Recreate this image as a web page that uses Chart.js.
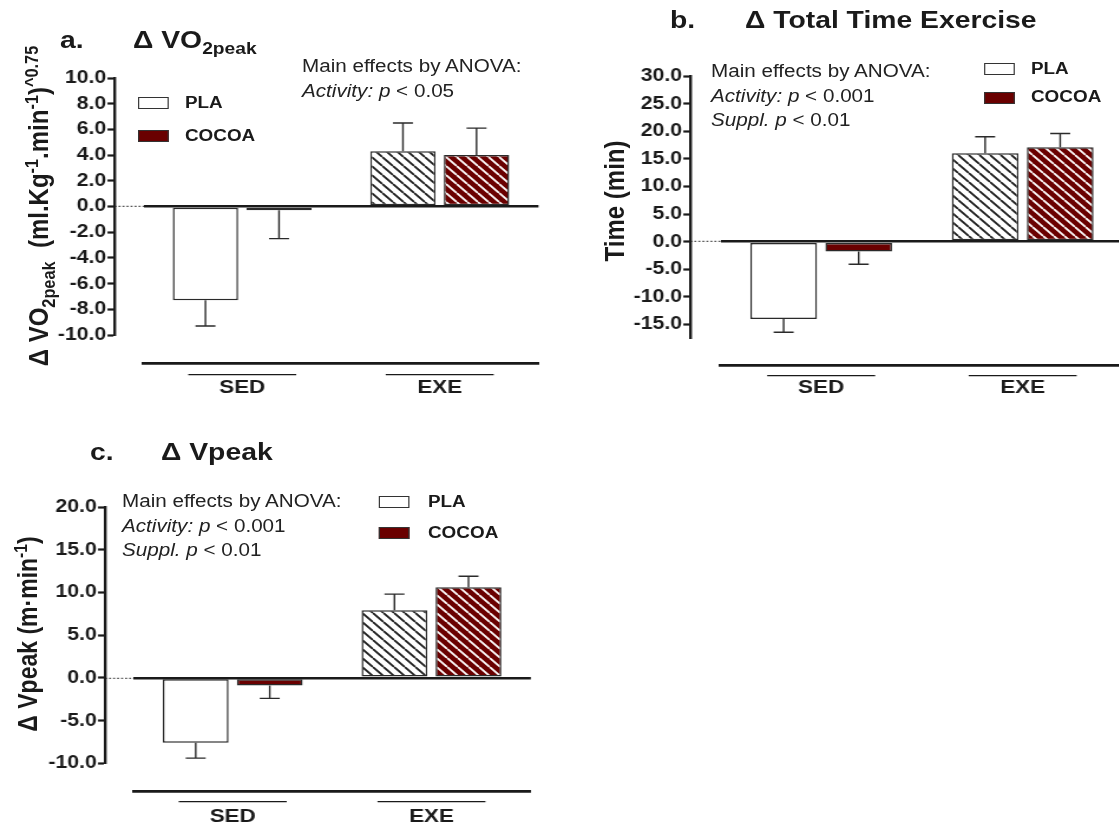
<!DOCTYPE html>
<html lang="en">
<head>
<meta charset="utf-8">
<title>Cocoa supplementation and exercise capacity</title>
<script src="https://cdn.jsdelivr.net/npm/chart.js@4.4.1/dist/chart.umd.min.js"></script>
<style>
  :root { --sx: 1.18; }
  html, body { margin: 0; padding: 0; background: #fff; overflow: hidden; width: 1119px; height: 827px; }
  #figure {
    position: absolute; left: 0; top: 0;
    width: calc(1119px / var(--sx)); height: 827px;
    transform: scaleX(var(--sx)); transform-origin: 0 0;
    font-family: 'Liberation Sans', Arial, sans-serif; color: #1a1a1a;
  }
  #figure canvas { position: absolute; }
  .t, .yt { position: absolute; white-space: nowrap; line-height: 1; }
  .t { left: calc(var(--x) * 1px / var(--sx)); top: calc(var(--y) * 1px); transform: translateY(-50%); }
  .yt {
    left: calc(var(--x) * 1px / var(--sx)); top: calc(var(--y) * 1px);
    transform: translate(-50%, -50%) rotate(-90deg);
    font-weight: bold; font-size: 24px;
  }
  .title { font-weight: bold; font-size: 24px; }
  .note { font-size: 17.5px; color: #222; }
  .key { font-weight: bold; font-size: 16px; }
  .swatch {
    position: absolute; left: calc(var(--x) * 1px / var(--sx)); top: calc(var(--y) * 1px);
    width: calc(31px / var(--sx)); height: 12px; box-sizing: border-box; border: 1.5px solid #333;
  }
  .swatch.pla { background: #fff; }
  .swatch.cocoa { background: #6a0000; }
  sub, sup { font-size: 0.68em; line-height: 0; }
</style>
</head>
<body>
<div id="figure">
  <!-- a. VO2peak -->
  <div class="t title" style="--x:60;--y:40">a.</div>
  <div class="t title" style="--x:133;--y:40">&Delta; VO<sub>2peak</sub></div>
  <div class="yt" style="--x:39;--y:206">&Delta; VO<sub>2peak</sub>&nbsp; (ml.Kg<sup>-1</sup>.min<sup>-1</sup>)<sup>^0.75</sup></div>
  <div class="t note" style="--x:302;--y:67">Main effects by ANOVA:</div>
  <div class="t note" style="--x:302;--y:92"><i>Activity:</i> <i>p</i> &lt; 0.05</div>
  <div class="swatch pla" style="--x:138;--y:97"></div>
  <div class="t key" style="--x:185;--y:103">PLA</div>
  <div class="swatch cocoa" style="--x:138;--y:130"></div>
  <div class="t key" style="--x:185;--y:136">COCOA</div>

  <!-- b. total exercise time -->
  <div class="t title" style="--x:670;--y:20">b.</div>
  <div class="t title" style="--x:745;--y:20">&Delta; Total Time Exercise</div>
  <div class="yt" style="--x:615;--y:201">Time (min)</div>
  <div class="t note" style="--x:711;--y:72">Main effects by ANOVA:</div>
  <div class="t note" style="--x:711;--y:97"><i>Activity:</i> <i>p</i> &lt; 0.001</div>
  <div class="t note" style="--x:711;--y:121"><i>Suppl.</i> <i>p</i> &lt; 0.01</div>
  <div class="swatch pla" style="--x:984;--y:63"></div>
  <div class="t key" style="--x:1031;--y:69">PLA</div>
  <div class="swatch cocoa" style="--x:984;--y:92"></div>
  <div class="t key" style="--x:1031;--y:97">COCOA</div>

  <!-- c. Vpeak -->
  <div class="t title" style="--x:90;--y:452">c.</div>
  <div class="t title" style="--x:161;--y:452">&Delta; Vpeak</div>
  <div class="yt" style="--x:28;--y:634;font-size:23px">&Delta; Vpeak (m&middot;min<sup>-1</sup>)</div>
  <div class="t note" style="--x:122;--y:502">Main effects by ANOVA:</div>
  <div class="t note" style="--x:122;--y:527"><i>Activity:</i> <i>p</i> &lt; 0.001</div>
  <div class="t note" style="--x:122;--y:551"><i>Suppl.</i> <i>p</i> &lt; 0.01</div>
  <div class="swatch pla" style="--x:379;--y:496"></div>
  <div class="t key" style="--x:428;--y:502">PLA</div>
  <div class="swatch cocoa" style="--x:379;--y:527"></div>
  <div class="t key" style="--x:428;--y:533">COCOA</div>
</div>

<script>
// The figure is laid out in final (stretched) pixels and squeezed by SX,
// then the wrapper stretches it back with scaleX.
const SX = 1.18;
const FONT = "'Liberation Sans', Arial, sans-serif";
const INK = '#1a1a1a';
const COCOA_RED = '#6a0000';

const groups = ['SED', 'EXE'];

// a. change in VO2peak
const vo2Pla = [-7.3, 4.3];
const vo2PlaErr = [2.0, 2.2];
const vo2Cocoa = [-0.3, 4.0];
const vo2CocoaErr = [2.2, 2.1];
const vo2Range = [-10, 10];
const vo2Step = 2;

// b. change in total exercise time (min)
const timePla = [-14.0, 16.0];
const timePlaErr = [2.4, 3.0];
const timeCocoa = [-1.8, 17.1];
const timeCocoaErr = [2.3, 2.5];
const timeRange = [-17.5, 30];
const timeStep = 5;

// c. change in Vpeak (m/min)
const vpeakPla = [-7.6, 7.9];
const vpeakPlaErr = [1.8, 1.9];
const vpeakCocoa = [-0.9, 10.6];
const vpeakCocoaErr = [1.5, 1.3];
const vpeakRange = [-10, 20];
const vpeakStep = 5;

document.documentElement.style.setProperty('--sx', SX);
const fig = document.getElementById('figure');

// diagonal hatch used for the EXE bars
function hatch(bg, ink) {
  const s = 9;
  const c = document.createElement('canvas');
  c.width = s;
  c.height = s;
  const g = c.getContext('2d');
  g.fillStyle = bg;
  g.fillRect(0, 0, s, s);
  g.strokeStyle = ink;
  g.lineWidth = 1.8;
  g.beginPath();
  for (const k of [-s, 0, s]) {
    g.moveTo(k, 0);
    g.lineTo(k + s, s);
  }
  g.stroke();
  return g.createPattern(c, 'repeat');
}

// one-sided SEM whiskers, pointing away from zero
const errorBars = {
  id: 'errorBars',
  afterDatasetsDraw(chart) {
    const { ctx } = chart;
    const yScale = chart.scales.y;
    const cap = 10 / SX;
    ctx.save();
    ctx.strokeStyle = '#2a2a2a';
    ctx.lineWidth = 1.4;
    chart.data.datasets.forEach((ds, i) => {
      chart.getDatasetMeta(i).data.forEach((bar, j) => {
        const v = ds.data[j];
        const end = v + (v < 0 ? -ds.err[j] : ds.err[j]);
        const y0 = yScale.getPixelForValue(v);
        const y1 = yScale.getPixelForValue(end);
        ctx.beginPath();
        ctx.moveTo(bar.x, y0);
        ctx.lineTo(bar.x, y1);
        ctx.moveTo(bar.x - cap, y1);
        ctx.lineTo(bar.x + cap, y1);
        ctx.stroke();
      });
    });
    ctx.restore();
  },
};

// short rule above each group label
const groupRules = {
  id: 'groupRules',
  afterDraw(chart, args, opts) {
    const { ctx } = chart;
    const sc = chart.scales.xAxis;
    const half = 54 / SX;
    const y = sc.top + opts.gap;
    ctx.save();
    ctx.strokeStyle = INK;
    ctx.lineWidth = 1.3;
    sc.ticks.forEach((t, i) => {
      const x = sc.getPixelForTick(i);
      ctx.beginPath();
      ctx.moveTo(x - half, y);
      ctx.lineTo(x + half, y);
      ctx.stroke();
    });
    ctx.restore();
  },
};

function drawPanel(frame, range, step, pla, plaErr, cocoa, cocoaErr) {
  const labelW = 72;       // room for tick labels left of the axis
  const bottomH = 44;      // group label band under the baseline
  const left = frame.axisX - labelW;
  const top = frame.plotT - 20;
  const w = Math.round((frame.plotR + 2 - left) / SX);
  const h = Math.round(frame.baseY + bottomH - top);
  const gap = (frame.plotL - frame.axisX) / SX;
  const padRight = w - (frame.plotR - left) / SX;

  const canvas = document.createElement('canvas');
  canvas.width = w;
  canvas.height = h;
  canvas.style.left = left / SX + 'px';
  canvas.style.top = top + 'px';
  canvas.style.width = w + 'px';
  canvas.style.height = h + 'px';
  fig.appendChild(canvas);

  const isZero = (ctx) => ctx.tick && ctx.tick.value === 0;

  return new Chart(canvas, {
    type: 'bar',
    data: {
      labels: groups,
      datasets: [
        {
          label: 'PLA',
          data: pla,
          err: plaErr,
          xAxisID: 'x',
          yAxisID: 'y',
          backgroundColor: ['#ffffff', hatch('#ffffff', '#1a1a1a')],
          borderColor: '#2a2a2a',
          borderWidth: 1.5,
          borderSkipped: false,
        },
        {
          label: 'COCOA',
          data: cocoa,
          err: cocoaErr,
          xAxisID: 'x',
          yAxisID: 'y',
          backgroundColor: [COCOA_RED, hatch(COCOA_RED, '#ffffff')],
          borderColor: '#2a2a2a',
          borderWidth: 1.5,
          borderSkipped: false,
        },
      ],
    },
    options: {
      responsive: false,
      animation: false,
      events: [],
      categoryPercentage: 0.745,
      barPercentage: 0.888,
      layout: { padding: { top: 20, left: 0, right: padRight, bottom: 0 } },
      plugins: {
        legend: { display: false },
        tooltip: { enabled: false },
        groupRules: { gap: frame.ruleGap },
      },
      scales: {
        yAxis: {
          type: 'linear',
          position: 'left',
          weight: 1,
          min: range[0],
          max: range[1],
          ticks: {
            stepSize: step,
            includeBounds: false,
            padding: 1,
            color: INK,
            font: { family: FONT, size: 18, weight: 'bold' },
            callback: (v) => v.toFixed(1),
          },
          grid: { drawOnChartArea: false, drawTicks: true, tickLength: 7 / SX, tickWidth: 2.2, tickColor: INK },
          border: { display: true, width: 2.4, color: INK },
          afterFit: (s) => { s.width = labelW / SX; },
        },
        y: {
          type: 'linear',
          position: 'left',
          weight: 0,
          min: range[0],
          max: range[1],
          ticks: { display: false, stepSize: step, includeBounds: false },
          grid: {
            color: (ctx) => (isZero(ctx) ? INK : 'transparent'),
            lineWidth: 2.6,
            drawTicks: true,
            tickLength: gap,
            tickWidth: 1.2,
            tickColor: (ctx) => (isZero(ctx) ? '#555' : 'transparent'),
            tickBorderDash: [1.7, 1.7],
          },
          border: { display: false },
          afterFit: (s) => { s.width = gap; },
        },
        x: {
          type: 'category',
          position: 'bottom',
          weight: 0,
          offset: true,
          ticks: { display: false },
          grid: { display: false },
          border: { display: false },
          afterFit: (s) => { s.height = frame.baseY - frame.plotB; },
        },
        xAxis: {
          type: 'category',
          position: 'bottom',
          weight: 1,
          offset: true,
          labels: groups,
          ticks: {
            padding: frame.labelGap - 11.4,
            color: INK,
            maxRotation: 0,
            autoSkip: false,
            font: { family: FONT, size: 19, weight: 'bold' },
          },
          grid: { drawOnChartArea: false, drawTicks: false },
          border: { display: true, width: 2.8, color: INK },
          afterFit: (s) => { s.height = bottomH; },
        },
      },
    },
    plugins: [errorBars, groupRules],
  });
}

drawPanel(
  { axisX: 114, plotL: 143, plotR: 538, plotT: 78.3, plotB: 335, baseY: 363, labelGap: 25, ruleGap: 11.7 },
  vo2Range, vo2Step, vo2Pla, vo2PlaErr, vo2Cocoa, vo2CocoaErr
);
drawPanel(
  { axisX: 690.4, plotL: 720.5, plotR: 1123.5, plotT: 76, plotB: 338.3, baseY: 365, labelGap: 23, ruleGap: 10.7 },
  timeRange, timeStep, timePla, timePlaErr, timeCocoa, timeCocoaErr
);
drawPanel(
  { axisX: 104.7, plotL: 133, plotR: 530.5, plotT: 506.7, plotB: 763.3, baseY: 791, labelGap: 25.7, ruleGap: 10.7 },
  vpeakRange, vpeakStep, vpeakPla, vpeakPlaErr, vpeakCocoa, vpeakCocoaErr
);
</script>
</body>
</html>
